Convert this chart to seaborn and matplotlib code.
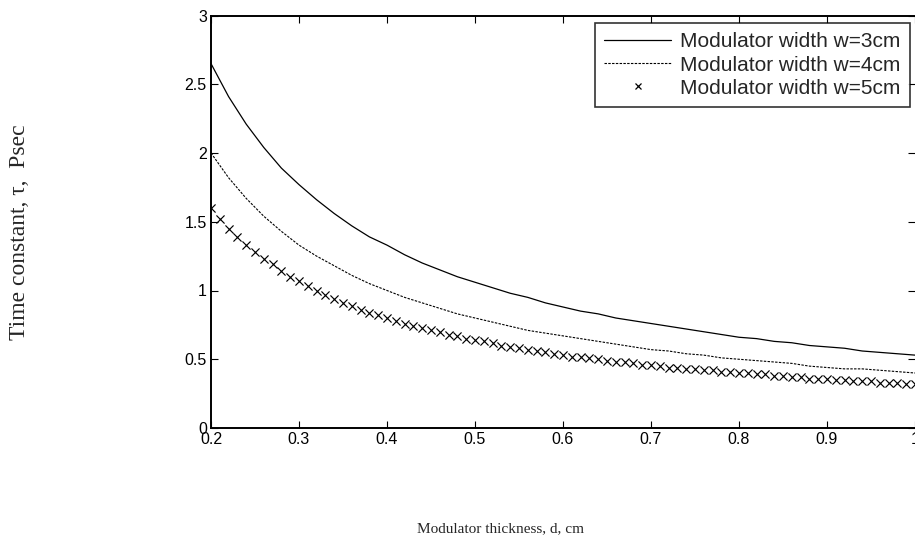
import numpy as np
import pandas as pd
import matplotlib
matplotlib.use("Agg")
import matplotlib.pyplot as plt
from matplotlib.lines import Line2D
import seaborn as sns

# thickness grid (cm)
d_line = np.round(np.arange(0.20, 1.0001, 0.02), 2)
d_mark = np.round(np.arange(0.20, 1.0001, 0.01), 2)

tau_w3 = [2.65, 2.41, 2.21, 2.04, 1.89, 1.77, 1.66, 1.56, 1.47, 1.39,
          1.33, 1.26, 1.20, 1.15, 1.10, 1.06, 1.02, 0.98, 0.95, 0.91,
          0.88, 0.85, 0.83, 0.80, 0.78, 0.76, 0.74, 0.72, 0.70, 0.68,
          0.66, 0.65, 0.63, 0.62, 0.60, 0.59, 0.58, 0.56, 0.55, 0.54, 0.53]
tau_w4 = [2.00, 1.82, 1.67, 1.54, 1.43, 1.33, 1.25, 1.18, 1.11, 1.05,
          1.00, 0.95, 0.91, 0.87, 0.83, 0.80, 0.77, 0.74, 0.71, 0.69,
          0.67, 0.65, 0.63, 0.61, 0.59, 0.57, 0.56, 0.54, 0.53, 0.51,
          0.50, 0.49, 0.48, 0.47, 0.45, 0.44, 0.43, 0.43, 0.42, 0.41, 0.40]
tau_w5 = [1.60, 1.52, 1.45, 1.39, 1.33, 1.28, 1.23, 1.19, 1.14, 1.10,
          1.07, 1.03, 1.00, 0.97, 0.94, 0.91, 0.89, 0.86, 0.84, 0.82,
          0.80, 0.78, 0.76, 0.74, 0.73, 0.71, 0.70, 0.68, 0.67, 0.65,
          0.64, 0.63, 0.62, 0.60, 0.59, 0.58, 0.57, 0.56, 0.55, 0.54,
          0.53, 0.52, 0.52, 0.51, 0.50, 0.49, 0.48, 0.48, 0.47, 0.46,
          0.46, 0.45, 0.44, 0.44, 0.43, 0.43, 0.42, 0.42, 0.41, 0.41,
          0.40, 0.40, 0.39, 0.39, 0.38, 0.38, 0.37, 0.37, 0.36, 0.36,
          0.36, 0.35, 0.35, 0.34, 0.34, 0.34, 0.33, 0.33, 0.33, 0.32, 0.32]

labels = ["Modulator width w=3cm", "Modulator width w=4cm", "Modulator width w=5cm"]
x_ticks = [0.2, 0.3, 0.4, 0.5, 0.6, 0.7, 0.8, 0.9, 1.0]
x_ticklabels = ["0.2", "0.3", "0.4", "0.5", "0.6", "0.7", "0.8", "0.9", "1"]
y_ticks = [0, 0.5, 1, 1.5, 2, 2.5, 3]
y_ticklabels = ["0", "0.5", "1", "1.5", "2", "2.5", "3"]

df3 = pd.DataFrame({"d": d_line, "tau": tau_w3})
df4 = pd.DataFrame({"d": d_line, "tau": tau_w4})
df5 = pd.DataFrame({"d": d_mark, "tau": tau_w5})

sns.set_style("white")
plt.rcParams["font.family"] = ["Liberation Sans", "DejaVu Sans"]

W, H = 915, 542
fig = plt.figure(figsize=(W / 100, H / 100), dpi=100)
ax = fig.add_axes([211 / W, 1 - 428 / H, 1 - 211 / W, (428 - 15.5) / H])

sns.lineplot(data=df3, x="d", y="tau", ax=ax, color="black", lw=0.9, legend=False)
sns.lineplot(data=df4, x="d", y="tau", ax=ax, color="black", lw=0.8,
             linestyle=(0, (2.2, 1.2)), legend=False)
sns.scatterplot(data=df5, x="d", y="tau", ax=ax, marker="x", color="black",
                s=34, linewidth=0.85, legend=False)

ax.set_xlim(0.2, 1.0)
ax.set_ylim(0, 3)
ax.set_xticks(x_ticks)
ax.set_xticklabels(x_ticklabels)
ax.set_yticks(y_ticks)
ax.set_yticklabels(y_ticklabels)
ax.set_xlabel("")
ax.set_ylabel("")
ax.tick_params(direction="in", length=5, width=0.8, labelsize=11.5, colors="black",
               top=True, right=True, bottom=True, left=True, pad=3)
for s in ["left", "bottom", "top"]:
    ax.spines[s].set_color("black")
    ax.spines[s].set_linewidth(1.4)
ax.spines["right"].set_visible(False)

handles = [
    Line2D([], [], color="black", lw=0.9),
    Line2D([], [], color="black", lw=0.8, linestyle=(0, (2.2, 1.2))),
    Line2D([], [], color="black", marker="x", linestyle="none", markersize=4.5, markeredgewidth=0.9),
]
leg = ax.legend(handles, labels, loc="upper right", bbox_to_anchor=(910 / W, 1 - 23 / H),
                bbox_transform=fig.transFigure, fontsize=15, frameon=True, fancybox=False,
                edgecolor="black", handlelength=3.2, handletextpad=0.45, borderpad=0.45,
                labelspacing=0.2, borderaxespad=0)
leg.get_frame().set_linewidth(1.2)

fig.text(501 / W, 1 - 529 / H, "Modulator thickness, d, cm", ha="center", va="center",
         fontsize=11, family=["Liberation Serif", "DejaVu Serif"])
fig.text(20 / W, 1 - 232 / H, "Time constant, \u03c4,  Psec", ha="center", va="center",
         rotation=90, fontsize=17, family=["Liberation Serif", "DejaVu Serif"])

fig.savefig("out.png", dpi=100)
